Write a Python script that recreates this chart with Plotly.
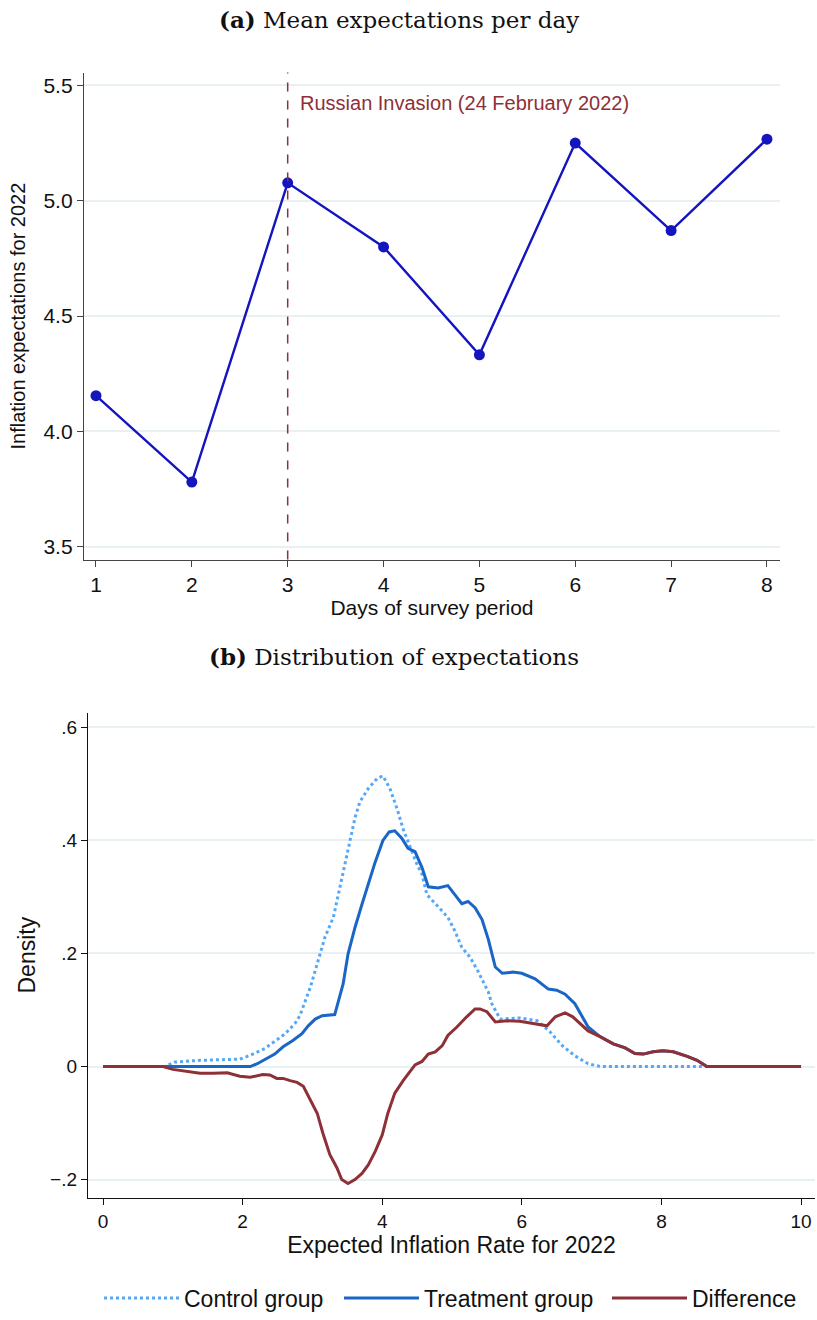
import plotly.graph_objects as go

# ---------------- Panel (a) data ----------------
days = [1, 2, 3, 4, 5, 6, 7, 8]
mean_expect = [4.155, 3.78, 5.078, 4.80, 4.332, 5.25, 4.871, 5.267]
invasion_day = 3
a_yticks = [3.5, 4.0, 4.5, 5.0, 5.5]
a_yticklabels = ["3.5", "4.0", "4.5", "5.0", "5.5"]

# ---------------- Panel (b) data ----------------
control_x = [0, 0.89, 1.03, 1.39, 1.96, 2.11, 2.32, 2.46, 2.61, 2.75, 2.82, 2.97, 3.08, 3.18,
             3.30, 3.37, 3.47, 3.54, 3.61, 3.68, 3.80, 3.93, 4.01, 4.11, 4.21, 4.30, 4.40,
             4.50, 4.57, 4.64, 4.80, 4.94, 5.04, 5.14, 5.26, 5.37, 5.52, 5.57, 5.69, 5.97,
             6.22, 6.40, 6.58, 6.76, 6.95, 7.12, 10]
control_y = [0, 0, 0.008, 0.011, 0.013, 0.02, 0.032, 0.044, 0.058, 0.076, 0.09, 0.14, 0.187,
             0.229, 0.264, 0.304, 0.362, 0.404, 0.44, 0.468, 0.492, 0.51, 0.514, 0.492, 0.457,
             0.42, 0.387, 0.357, 0.34, 0.304, 0.283, 0.264, 0.24, 0.211, 0.193, 0.169, 0.132,
             0.111, 0.084, 0.086, 0.081, 0.062, 0.037, 0.019, 0.005, 0, 0]

treat_x = [0, 2.11, 2.21, 2.35, 2.46, 2.58, 2.72, 2.85, 2.94, 3.04, 3.14, 3.32, 3.40, 3.44,
           3.51, 3.61, 3.71, 3.80, 3.90, 4.01, 4.10, 4.18, 4.28, 4.37, 4.47, 4.57, 4.66,
           4.80, 4.94, 5.04, 5.14, 5.23, 5.33, 5.43, 5.52, 5.62, 5.72, 5.87, 6.00, 6.19,
           6.38, 6.50, 6.62, 6.76, 6.95, 7.12, 7.31, 7.48, 7.62, 7.74, 7.88, 8.02, 8.17,
           8.37, 8.51, 8.65, 10]
treat_y = [0, 0, 0.005, 0.014, 0.022, 0.035, 0.046, 0.058, 0.072, 0.084, 0.09, 0.092, 0.128,
           0.146, 0.199, 0.246, 0.287, 0.322, 0.362, 0.40, 0.415, 0.417, 0.404, 0.386, 0.38,
           0.352, 0.318, 0.316, 0.32, 0.304, 0.288, 0.292, 0.281, 0.26, 0.225, 0.176, 0.165,
           0.167, 0.165, 0.155, 0.137, 0.135, 0.128, 0.111, 0.07, 0.053, 0.04, 0.033, 0.023,
           0.022, 0.026, 0.028, 0.026, 0.018, 0.011, 0, 0]

diff_x = [0, 0.86, 1.00, 1.20, 1.39, 1.58, 1.78, 1.96, 2.11, 2.29, 2.39, 2.49, 2.58, 2.68,
          2.78, 2.87, 2.97, 3.07, 3.15, 3.25, 3.35, 3.42, 3.51, 3.61, 3.71, 3.80, 3.90, 4.00,
          4.08, 4.18, 4.30, 4.40, 4.47, 4.57, 4.66, 4.76, 4.86, 4.94, 5.07, 5.21, 5.33, 5.40,
          5.50, 5.62, 5.79, 5.97, 6.16, 6.36, 6.48, 6.62, 6.73, 6.83, 6.95, 7.12, 7.31, 7.48,
          7.62, 7.74, 7.88, 8.02, 8.17, 8.37, 8.51, 8.65, 10]
diff_y = [0, 0, -0.005, -0.009, -0.012, -0.012, -0.011, -0.017, -0.019, -0.014, -0.015,
          -0.021, -0.021, -0.025, -0.028, -0.035, -0.059, -0.083, -0.118, -0.156, -0.179,
          -0.2, -0.207, -0.2, -0.189, -0.174, -0.15, -0.121, -0.083, -0.047, -0.025, -0.009,
          0.003, 0.009, 0.022, 0.026, 0.037, 0.055, 0.07, 0.088, 0.102, 0.102, 0.097, 0.079,
          0.081, 0.08, 0.076, 0.072, 0.088, 0.095, 0.088, 0.076, 0.063, 0.053, 0.04, 0.033,
          0.023, 0.022, 0.026, 0.028, 0.026, 0.018, 0.011, 0, 0]

b_yticks = [-0.2, 0, 0.2, 0.4, 0.6]
b_yticklabels = ["\u2212.2", "0", ".2", ".4", ".6"]
b_xticks = [0, 2, 4, 6, 8, 10]

# ---------------- styles ----------------
W, H = 817, 1320
SANS = "Liberation Sans, Arial, sans-serif"
SERIF = "DejaVu Serif, Liberation Serif, serif"
BLUE_A = "#1515c0"
RED = "#8e3037"
TREAT = "#1a66c6"
CONTROL = "#55a8f8"
GRID = "#e9f0f3"
TXT = "#111111"

def px_x(p):
    return p / W

def px_y(p):
    return 1 - p / H

fig = go.Figure()

fig.add_trace(go.Scatter(
    x=days, y=mean_expect, mode="lines+markers",
    line=dict(color=BLUE_A, width=2.4),
    marker=dict(color=BLUE_A, size=11),
    xaxis="x", yaxis="y", showlegend=False))

fig.add_trace(go.Scatter(
    x=control_x, y=control_y, mode="lines", name="Control group",
    line=dict(color=CONTROL, width=3, dash="dot"),
    xaxis="x2", yaxis="y2", legend="legend"))
fig.add_trace(go.Scatter(
    x=treat_x, y=treat_y, mode="lines", name="Treatment group",
    line=dict(color=TREAT, width=3),
    xaxis="x2", yaxis="y2", legend="legend2"))
fig.add_trace(go.Scatter(
    x=diff_x, y=diff_y, mode="lines", name="Difference",
    line=dict(color=RED, width=3),
    xaxis="x2", yaxis="y2", legend="legend3"))

def axis_common(size, lc):
    return dict(showline=True, linecolor=lc, linewidth=1.3, ticks="outside",
                ticklen=6, tickcolor=lc, zeroline=False,
                tickfont=dict(family=SANS, size=size, color=TXT))

def leg(xpx):
    return dict(orientation="h", x=px_x(xpx), xanchor="left", y=px_y(1306), yanchor="middle",
                font=dict(family=SANS, size=23, color=TXT), itemwidth=75,
                bgcolor="rgba(0,0,0,0)", borderwidth=0)

fig.update_layout(
    width=W, height=H,
    margin=dict(l=0, r=0, t=0, b=0),
    paper_bgcolor="white", plot_bgcolor="white",
    showlegend=True,
    legend=leg(99), legend2=leg(339), legend3=leg(607),
    xaxis=dict(domain=[px_x(84), px_x(780)], range=[0.875, 8.136], anchor="y",
               tickvals=days, showgrid=False,
               title=dict(text="Days of survey period", standoff=5,
                          font=dict(family=SANS, size=21, color=TXT)),
               **axis_common(21, "#444444")),
    yaxis=dict(domain=[px_y(563), px_y(73)], range=[3.444, 5.556], anchor="x",
               tickvals=a_yticks, ticktext=a_yticklabels, showgrid=True,
               gridcolor=GRID, gridwidth=1.5,
               title=dict(text="Inflation expectations for 2022", standoff=12,
                          font=dict(family=SANS, size=20, color=TXT)),
               **axis_common(21, "#444444")),
    xaxis2=dict(domain=[px_x(88), px_x(815)], range=[-0.215, 10.2], anchor="y2",
                tickvals=b_xticks, showgrid=False,
                title=dict(text="Expected Inflation Rate for 2022", standoff=4,
                           font=dict(family=SANS, size=23, color=TXT)),
                **axis_common(19, "#111111")),
    yaxis2=dict(domain=[px_y(1205), px_y(717)], range=[-0.232, 0.626], anchor="x2",
                tickvals=b_yticks, ticktext=b_yticklabels, showgrid=True,
                gridcolor=GRID, gridwidth=1.5,
                title=dict(text="Density", standoff=8,
                           font=dict(family=SANS, size=23, color=TXT)),
                **axis_common(19, "#111111")),
)

# invasion line (panel a)
fig.add_shape(type="line", xref="x", yref="paper", x0=invasion_day, x1=invasion_day,
              y0=px_y(563), y1=px_y(73), line=dict(color=RED, width=1.5, dash="dash"))
fig.add_annotation(xref="x", yref="y", x=invasion_day, y=5.5, xshift=10, yshift=-18,
                   xanchor="left", yanchor="middle", showarrow=False,
                   text="Russian Invasion (24 February 2022)",
                   font=dict(family=SANS, size=20, color=RED))

# zero reference line (panel b)
fig.add_shape(type="line", xref="paper", yref="y2", x0=px_x(88), x1=px_x(815), y0=0, y1=0,
              line=dict(color=RED, width=1.2, dash="dash"), layer="below")

# panel titles
fig.add_annotation(xref="paper", yref="paper", x=px_x(399), y=px_y(20), showarrow=False,
                   xanchor="center", yanchor="middle",
                   text="<b>(a)</b> Mean expectations per day",
                   font=dict(family=SERIF, size=23, color=TXT))
fig.add_annotation(xref="paper", yref="paper", x=px_x(394), y=px_y(660), showarrow=False,
                   xanchor="center", yanchor="middle",
                   text="<b>(b)</b> Distribution of expectations",
                   font=dict(family=SERIF, size=23, color=TXT))

fig.write_html("out.html", config={"displayModeBar": False},
               post_script="document.body.style.margin='0';document.body.style.overflow='hidden';")
